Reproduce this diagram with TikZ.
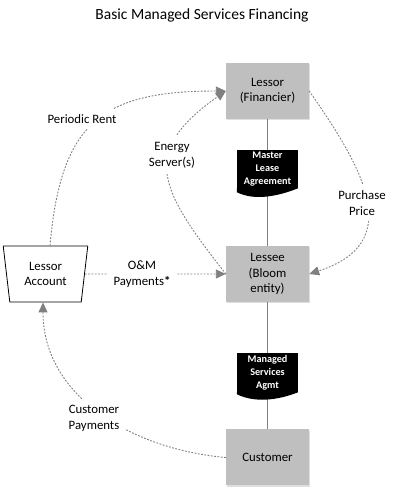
\documentclass[tikz,border=0pt]{standalone}
\usepackage{fontspec}
\setmainfont{Carlito}
\usetikzlibrary{arrows.meta,shapes.geometric,shadows}
\definecolor{boxgray}{RGB}{191,191,191}
\definecolor{flowgray}{RGB}{128,128,128}
\begin{document}
\begin{tikzpicture}[x=1pt,y=1pt,
  party/.style={fill=boxgray,minimum width=83pt,minimum height=56pt,align=center,
    font=\fontsize{12.8}{15.5}\selectfont,
    drop shadow={shadow xshift=1.2pt,shadow yshift=-1.2pt,opacity=.25}},
  acct/.style={draw,line width=.8pt,trapezium,shape border rotate=180,
    trapezium left angle=81.4,trapezium right angle=81.4,trapezium stretches=true,
    minimum width=85pt,minimum height=56pt,align=center,font=\fontsize{12.8}{15}\selectfont},
  doc/.style={fill=black,text=white,minimum width=61pt,inner sep=1pt,align=center,
    font=\fontsize{10.2}{12.8}\selectfont\bfseries},
  flow/.style={flowgray,line width=.9pt,dash pattern=on 1.8pt off 1.5pt,
    -{Triangle[length=10pt,width=9pt]}},
  tag/.style={fill=white,inner sep=6pt,align=center,font=\fontsize{12.8}{16}\selectfont},
  link/.style={flowgray,line width=1pt}]
\useasboundingbox (0,0) rectangle (404,491);
\node[font=\fontsize{15.5}{18}\selectfont] (title) at (202,476) {Basic Managed Services Financing};
\node[party] (lessor) at (267.5,400) {Lessor\\(Financier)};
\node[party] (lessee) at (267.5,217) {Lessee\\(Bloom\\entity)};
\node[party] (customer) at (267.5,33.5) {Customer};
\node[acct] (account) at (45.5,217) {Lessor\\Account};
\draw[link] (lessor) -- (lessee);
\draw[link] (lessee) -- (customer);
\node[doc,minimum height=38pt] (mla) at (267.5,322) {Master\\Lease\\Agreement};
\fill (mla.south west) -- ++(0,-4) .. controls +(18,-9) and +(-20,-8) .. (mla.south east) -- cycle;
\node[doc,minimum height=39pt] (msa) at (267.5,118.5) {Managed\\Services\\Agmt};
\fill (msa.south west) -- ++(0,-2) .. controls +(18,-9) and +(-20,-8) .. (msa.south east) -- cycle;
\draw[flow] ([xshift=4.5pt]account.north) to[out=85,in=180,looseness=1.35] (lessor.west);
\draw[flow] (lessee.west) to[out=128,in=215,looseness=1.5] (lessor.west);
\draw[flow] (lessor.east) to[out=-55,in=18,looseness=1.4] (lessee.east);
\draw[flow] (account.east) -- (lessee.west);
\draw[flow] (customer.west) to[out=175,in=-90] ([xshift=-2.5pt]account.south);
\node[tag] (rent) at (82,372) {Periodic Rent};
\node[tag] (energy) at (172,336) {Energy\\Server(s)};
\node[tag] (price) at (362,288) {Purchase\\Price};
\node[tag] (om) at (142,217) {O\&M\\Payments\textbf{*}};
\node[tag] (custpay) at (94,73) {Customer\\Payments};
\end{tikzpicture}
\end{document}
